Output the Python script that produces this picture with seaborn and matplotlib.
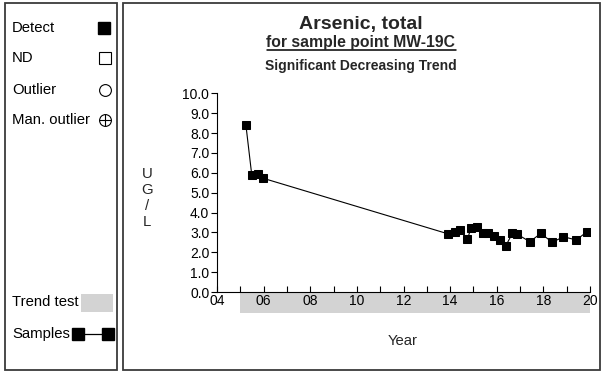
import matplotlib
matplotlib.use("Agg")
import matplotlib.pyplot as plt
import seaborn as sns
import pandas as pd
from matplotlib.patches import Rectangle
from matplotlib.lines import Line2D

# Arsenic, total (ug/L) at MW-19C, sample dates as decimal years
sample_years = [2005.24, 2005.49, 2005.75, 2005.99, 2013.93, 2014.21, 2014.43,
                2014.74, 2014.89, 2015.17, 2015.43, 2015.64, 2015.89, 2016.15,
                2016.39, 2016.67, 2016.89, 2017.42, 2017.89, 2018.38, 2018.86,
                2019.41, 2019.87]
arsenic_ugl = [8.40, 5.90, 5.95, 5.72, 2.92, 3.03, 3.12,
               2.65, 3.20, 3.29, 2.95, 2.95, 2.83, 2.62,
               2.33, 2.95, 2.90, 2.53, 2.95, 2.50, 2.78,
               2.62, 3.03]

year_ticks = [2004, 2006, 2008, 2010, 2012, 2014, 2016, 2018, 2020]
year_tick_labels = ["04", "06", "08", "10", "12", "14", "16", "18", "20"]
value_ticks = [0.0, 1.0, 2.0, 3.0, 4.0, 5.0, 6.0, 7.0, 8.0, 9.0, 10.0]
trend_start, trend_end = 2005.0, 2020.0

legend_labels = ["Detect", "ND", "Outlier", "Man. outlier"]

sns.set_style("white")
plt.rcParams["font.family"] = ["Liberation Sans", "DejaVu Sans"]

W, H = 602, 373
fig = plt.figure(figsize=(W / 100, H / 100), dpi=100)


def fx(px):
    return px / W


def fy(py):
    return 1 - py / H


# overlay in pixel units for the frames and the key
lax = fig.add_axes([0, 0, 1, 1])
lax.set_xlim(0, W)
lax.set_ylim(H, 0)
lax.axis("off")
lax.patch.set_alpha(0)

frame_kw = dict(fill=False, edgecolor="#3a3a3a", lw=1.3)
lax.add_patch(Rectangle((5, 3), 112, 367, **frame_kw))
lax.add_patch(Rectangle((123, 3), 477, 367, **frame_kw))

# key
key_y = [28, 58, 90, 120]
txt_kw = dict(va="center", ha="left", fontsize=10.7, color="black")
for label, yy in zip(legend_labels, key_y):
    lax.text(12, yy, label, **txt_kw)
lax.plot([104], [key_y[0]], marker="s", ms=8, color="black", ls="none")
lax.plot([104.5], [key_y[1]], marker="s", ms=8, mfc="white", mec="black",
         mew=0.8, ls="none")
lax.plot([104.5], [key_y[2]], marker="o", ms=8.5, mfc="white", mec="black",
         mew=0.8, ls="none")
lax.plot([104.5], [key_y[3]], marker="o", ms=8.5, mfc="white", mec="black",
         mew=0.8, ls="none")
lax.plot([104.5], [key_y[3]], marker="+", ms=8.5, mec="black", mew=0.8,
         ls="none")

lax.text(12, 302, "Trend test", **txt_kw)
lax.add_patch(Rectangle((81, 294), 32, 18, color="#d3d3d3", lw=0))
lax.text(12, 334, "Samples", **txt_kw)
lax.plot([77.5, 107.5], [334, 334], color="black", lw=0.9, marker="s", ms=8)

# main plot
ax = fig.add_axes([fx(217), fy(292), (590 - 217) / W, (292 - 93.3) / H])
df = pd.DataFrame({"Year": sample_years, "Arsenic": arsenic_ugl})
sns.lineplot(data=df, x="Year", y="Arsenic", ax=ax, estimator=None,
             color="black", lw=0.8, marker="s", markersize=6.2,
             markeredgecolor="black", markerfacecolor="black")

ax.set_xlim(year_ticks[0], year_ticks[-1])
ax.set_ylim(value_ticks[0], value_ticks[-1])
ax.set_xticks(year_ticks)
ax.set_xticklabels(year_tick_labels)
ax.set_xticks(range(year_ticks[0], year_ticks[-1] + 1), minor=True)
ax.set_yticks(value_ticks)
ax.set_yticklabels([f"{v:.1f}" for v in value_ticks])
ax.set_xlabel("")
ax.set_ylabel("")
for side in ["top", "right"]:
    ax.spines[side].set_visible(False)
for side in ["left", "bottom"]:
    ax.spines[side].set_color("black")
    ax.spines[side].set_linewidth(0.8)
ax.tick_params(axis="y", direction="out", length=4, width=0.8, labelsize=10,
               pad=1.5, left=True, colors="black")
ax.tick_params(axis="x", which="both", direction="in", length=4, width=0.8,
               labelsize=10, pad=1.5, bottom=True, colors="black")
ax.patch.set_alpha(0)

# trend test period band under the time axis
ax.add_patch(Rectangle((trend_start, -0.104), trend_end - trend_start, 0.104,
                       transform=ax.get_xaxis_transform(), clip_on=False,
                       color="#d3d3d3", lw=0, zorder=0))

fig.text(fx(403), fy(341), "Year", ha="center", va="center", fontsize=10.7)
fig.text(fx(147), fy(198), "U\nG\n/\nL", ha="center", va="center",
         fontsize=10.7, linespacing=1.18)

fig.text(fx(361), fy(29), "Arsenic, total", ha="center", va="baseline",
         fontsize=14, fontweight="bold")
sub = fig.text(fx(361), fy(46.5), "for sample point MW-19C", ha="center",
               va="baseline", fontsize=11.3, fontweight="bold")
fig.text(fx(361), fy(70), "Significant Decreasing Trend", ha="center",
         va="baseline", fontsize=10, fontweight="bold")

fig.canvas.draw()
bb = sub.get_window_extent(fig.canvas.get_renderer())
fig.add_artist(Line2D([bb.x0 / W, bb.x1 / W], [fy(49.8), fy(49.8)],
                      transform=fig.transFigure, color="black", lw=1.1))

fig.savefig("out.png", dpi=100)
